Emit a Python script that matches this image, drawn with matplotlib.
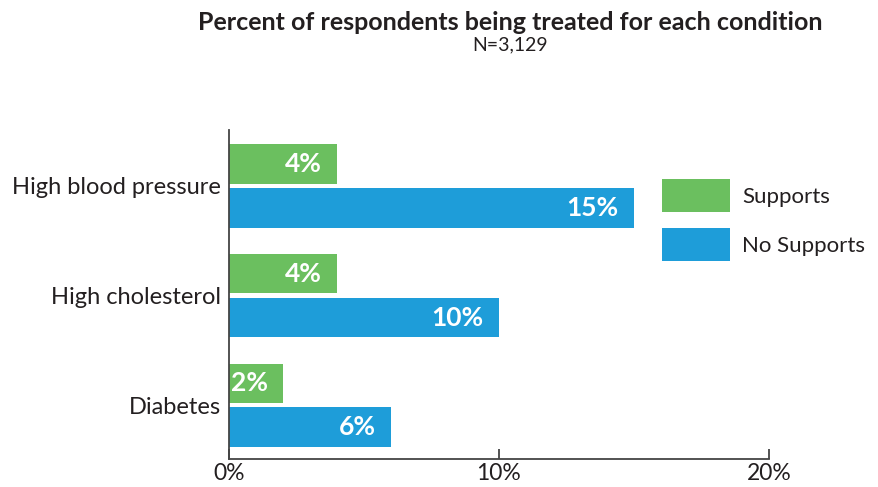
import numpy as np
import matplotlib.pyplot as plt
from matplotlib.ticker import FuncFormatter

conditions = ["High blood pressure", "High cholesterol", "Diabetes"]
supports = [4, 4, 2]
no_supports = [15, 10, 6]
x_ticks = [0, 10, 20]

GREEN = "#6bbf5f"
BLUE = "#1e9dd9"
DARK = "#231f20"

plt.rcParams["font.family"] = ["Lato", "DejaVu Sans"]

fig = plt.figure(figsize=(8.79, 4.87), dpi=100)
ax = fig.add_axes([0.2605, 0.0575, 0.6143, 0.6756])

y = np.arange(len(conditions))
h = 0.36
off = 0.2

bars_s = ax.barh(y - off, supports, height=h, color=GREEN, label="Supports")
bars_n = ax.barh(y + off, no_supports, height=h, color=BLUE, label="No Supports")

for bars, vals in ((bars_s, supports), (bars_n, no_supports)):
    ax.bar_label(bars, labels=[f"{v}%" for v in vals], padding=-11,
                 color="white", fontsize=19, fontweight="bold")
    for t in ax.texts[-len(vals):]:
        t.set_ha("right")

ax.set_xlim(0, 20)
ax.set_ylim(2.49, -0.51)
ax.set_xticks(x_ticks)
ax.xaxis.set_major_formatter(FuncFormatter(lambda v, _: f"{v:.0f}%"))
ax.set_yticks(y)
ax.set_yticklabels(conditions)

for side in ("top", "right"):
    ax.spines[side].set_visible(False)
for side in ("left", "bottom"):
    ax.spines[side].set_color("#444444")
    ax.spines[side].set_linewidth(1.3)

ax.tick_params(axis="x", direction="in", length=7, width=1.3, color="#444444",
               labelsize=16.5, labelcolor=DARK, pad=3)
ax.tick_params(axis="y", length=0, labelsize=17, labelcolor=DARK, pad=6)

ax.legend(loc="upper left", bbox_to_anchor=(0.740, 0.655),
          bbox_transform=fig.transFigure, frameon=False, fontsize=16,
          handlelength=3.1, handleheight=1.91, handletextpad=0.54,
          labelspacing=0.72, borderpad=0, labelcolor=DARK)

fig.text(0.58, 0.953, "Percent of respondents being treated for each condition",
         ha="center", va="center", fontsize=18, fontweight="bold", color=DARK)
fig.text(0.58, 0.907, "N=3,129", ha="center", va="center",
         fontsize=14, color=DARK)

fig.savefig("out.png", dpi=100)
